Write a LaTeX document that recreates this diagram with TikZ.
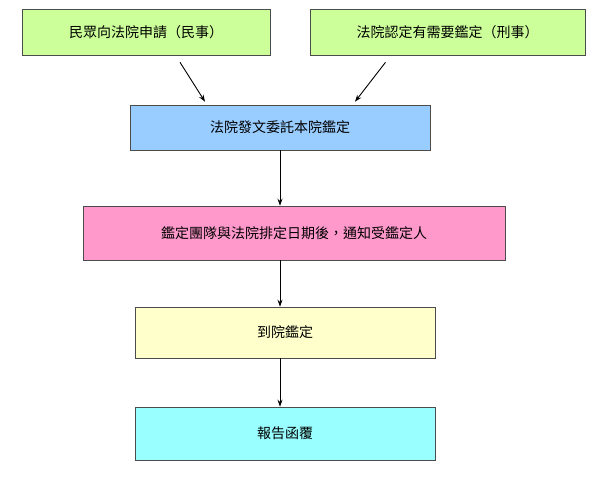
\documentclass[tikz,border=0pt]{standalone}
\usepackage{fontspec}
\newfontfamily\cjk{Noto Sans CJK TC}
\usetikzlibrary{arrows.meta}
\begin{document}
\begin{tikzpicture}[x=1pt,y=-1pt,
 box/.style={draw=black!70,line width=0.6pt,font=\cjk\fontsize{14}{16}\selectfont,inner sep=0pt},
 arr/.style={-{Stealth[length=7pt,width=5pt]},line width=0.9pt}]
\useasboundingbox (0,0) rectangle (600,485);
\node[box,fill={rgb,255:red,204;green,255;blue,153},minimum width=248pt,minimum height=46pt] (a) at (146,32) {民眾向法院申請（民事）};
\node[box,fill={rgb,255:red,204;green,255;blue,153},minimum width=275pt,minimum height=46pt] (b) at (447.5,32) {法院認定有需要鑑定（刑事）};
\node[box,fill={rgb,255:red,153;green,204;blue,255},minimum width=300pt,minimum height=45pt] (c) at (280,127.5) {法院發文委託本院鑑定};
\node[box,fill={rgb,255:red,255;green,153;blue,204},minimum width=422pt,minimum height=54pt] (d) at (294,233) {鑑定團隊與法院排定日期後，通知受鑑定人};
\node[box,fill={rgb,255:red,255;green,255;blue,204},minimum width=300pt,minimum height=51pt] (e) at (285,332.5) {到院鑑定};
\node[box,fill={rgb,255:red,153;green,255;blue,255},minimum width=300pt,minimum height=53pt] (f) at (285,433.5) {報告函覆};
\draw[arr] ([xshift=34pt,yshift=-7pt]a.south) -- ([xshift=-75pt,yshift=3pt]c.north);
\draw[arr] ([xshift=-62pt,yshift=-7pt]b.south) -- ([xshift=75pt,yshift=3pt]c.north);
\draw[arr] (c.south) -- (c.south |- d.north);
\draw[arr] (d.south -| e.north) ++(-5pt,0) -- ([xshift=-5pt]e.north);
\draw[arr] ([xshift=-5pt]e.south) -- ([xshift=-5pt]f.north);
\end{tikzpicture}
\end{document}
